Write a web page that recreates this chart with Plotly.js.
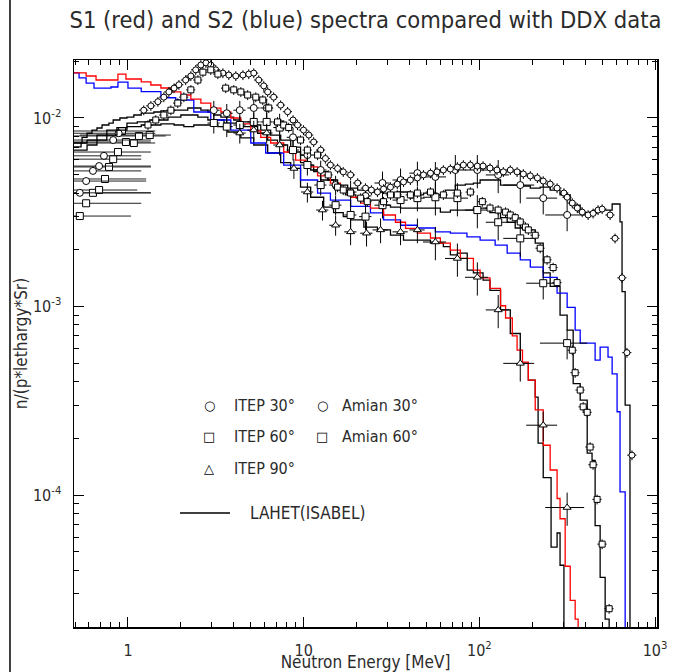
<!DOCTYPE html>
<html><head><meta charset="utf-8">
<script src="https://cdn.plot.ly/plotly-3.0.1.min.js"></script>
<style>body{margin:0;background:#fff}#chart{width:681px;height:672px}</style>
</head><body><div id="chart"></div>
<script>
// ---- S1 (red) histogram: bin start energies [MeV] and values (last value ~0 closes the histogram)
const s1E = [0.493,0.578,0.658,0.800,0.877,0.974,1.19,1.35,1.54,1.755,2.0,2.28,2.6,2.96,3.38,3.85,4.39,5.0,5.7,6.49,7.7,9.0,10.25,12.0,14.2,16.2,18.5,21.1,24.0,28.5,33.3,38.0,44.4,52.7,60,68.4,78,92.5,101,115,132,141,154,164,176,190,208,231,253,277,288,308,329,351,365];
const s1V = [0.01733,0.0167,0.0159,0.0159,0.0171,0.0161,0.01554,0.01496,0.01442,0.01375,0.01324,0.0126,0.0120,0.01128,0.01076,0.0100,0.0093,0.00853,0.0079,0.00737,0.0066,0.00598,0.0055,0.00493,0.00452,0.00415,0.0038,0.00354,0.00333,0.00306,0.0028,0.0026,0.00245,0.00231,0.00217,0.00199,0.0018,0.00156,0.00142,0.00125,0.00101,0.00087,0.0007,0.000587,0.000508,0.000407,0.000283,0.000184,0.000136,9.6e-5,7.5e-5,4.2e-5,2.77e-5,2.2e-5,1e-7];
// ---- S2 (blue) histogram
const s2E = [0.493,0.527,0.578,0.641,0.80,0.877,1.0,1.19,1.54,1.87,2.37,2.96,3.85,5.0,6.08,7.7,9.6,12.0,14.2,18.5,24.0,28.5,35.6,44.4,56.2,68.4,85,101,123,144,171,195,231,277,316,351,375,456,487,540,570,608,632,676];
const s2V = [0.01733,0.0163,0.0153,0.0144,0.0146,0.0155,0.0144,0.0138,0.0128,0.01246,0.01076,0.00976,0.00863,0.00737,0.00652,0.00563,0.00469,0.0040,0.00367,0.0034,0.00314,0.00288,0.0027,0.00261,0.00249,0.00245,0.00234,0.00225,0.00212,0.00192,0.00177,0.00162,0.00143,0.00118,0.00099,0.00075,0.00064,0.00052,0.00061,0.00054,0.00044,0.000277,0.000104,1e-7];
// ---- LAHET(ISABEL) histograms (black) at 30, 60, 90 degrees
const l30E = [0.493,0.548,0.585,0.624,0.666,0.712,0.779,0.824,0.90,0.987,1.08,1.19,1.405,1.54,1.83,2.19,2.6,2.85,3.08,3.38,4.0,4.39,5.0,5.7,6.49,7.4,8.44,9.6,10.5,11.4,13.7,15.6,17.8,20.3,24.0,28.5,34.1,40.5,48.1,57.4,64.0,73,83.3,92.5,101,115,132,144,171,195,222,253,288,329,375,427,487,570,632,649,676,720];
const l30V = [0.00737,0.0079,0.0083,0.00863,0.00885,0.00918,0.0094,0.00976,0.0100,0.0101,0.01037,0.0106,0.01076,0.0109,0.0110,0.0113,0.0110,0.01076,0.01037,0.0101,0.00976,0.00953,0.00918,0.00863,0.00812,0.00764,0.0070,0.00636,0.00563,0.0052,0.00469,0.00441,0.00425,0.00415,0.00405,0.0040,0.00405,0.00391,0.0040,0.00391,0.00415,0.00441,0.00446,0.00452,0.00469,0.00469,0.00441,0.00441,0.00436,0.00425,0.0043,0.00415,0.00391,0.00345,0.00315,0.00318,0.00325,0.0035,0.00281,0.0012,0.0003,1e-7];
const l60E = [0.493,0.541,0.585,0.666,0.758,0.865,0.987,1.13,1.33,1.48,1.69,2.0,2.5,2.85,3.52,4.39,5.47,6.24,7.1,8.1,9.6,10.96,12.5,14.8,17.3,19.8,22.5,27.4,31.2,35.6,46.2,60,68.4,78,92.5,115,132,144,160,178,208,231,253,288,316,342,375,411,438,456,487,520,548];
const l60V = [0.00702,0.00737,0.00764,0.00812,0.00863,0.0089,0.0094,0.00953,0.00976,0.00976,0.0101,0.01037,0.0101,0.00976,0.0094,0.0090,0.0083,0.00764,0.00719,0.0066,0.0058,0.0053,0.00469,0.00425,0.00391,0.00378,0.00367,0.00345,0.00337,0.00333,0.00333,0.00317,0.00325,0.00325,0.00333,0.00315,0.00296,0.0028,0.00261,0.00255,0.00217,0.00151,0.00128,0.0009,0.00075,0.00039,0.000319,0.000167,0.000153,6.9e-5,3.67e-5,2.2e-5,1e-7];
const l90E = [0.493,0.585,0.666,0.758,0.865,0.987,1.19,1.54,1.83,2.08,2.37,2.85,3.25,3.70,4.39,5.2,6.24,7.4,8.44,9.6,10.96,13.0,14.8,16.8,18.5,22.0,26.3,31.2,37.0,44.4,52.7,62.4,68.4,75,85.3,92.5,105,115,132,150,171,190,208,216,231,256,277,288,303];
const l90V = [0.00676,0.00719,0.00764,0.00812,0.00863,0.0090,0.00918,0.0093,0.00918,0.0090,0.00918,0.00918,0.0090,0.00843,0.00784,0.00719,0.00652,0.0058,0.0054,0.0043,0.0038,0.00337,0.00315,0.0030,0.00288,0.00264,0.00255,0.00239,0.00225,0.00225,0.00217,0.00208,0.00188,0.00192,0.00156,0.00151,0.00138,0.00122,0.00096,0.00072,0.0005,0.000407,0.000331,0.000189,0.000124,5.3e-5,6.3e-5,4.25e-5,1e-7];
// ---- Amian data (dense series)
const a30E = [1.23,1.35,1.48,1.60,1.71,1.83,1.95,2.13,2.28,2.43,2.6,2.78,2.96,3.16,3.47,3.75,4.11,4.51,4.87,5.2,5.55,5.93,6.24,6.75,7.4,8.1,8.7,9.23,9.98,10.7,11.4,12.5,13.3,14.2,15.6,16.8,18.5,20.3,22.5,24.3,26.3,28.5,31.2,34.1,37.0,40.5,44.4,48.1,52.7,57.4,62.4,68.4,75,81.1,88.9,97.4,105,115,126,137,150,164,178,195,214,231,253,277,303,316,338,361,385,416,444,474,500,555,592,649,692,739];
const a30V = [0.011,0.0116,0.0122,0.0129,0.01375,0.0144,0.015,0.0159,0.0167,0.018,0.0191,0.0196,0.0191,0.018,0.0173,0.0169,0.0167,0.0169,0.0171,0.0173,0.0159,0.0148,0.01375,0.0129,0.0117,0.0108,0.00976,0.00918,0.00863,0.00812,0.00746,0.00676,0.0061,0.00563,0.0054,0.00518,0.00499,0.00452,0.00425,0.00415,0.00405,0.0042,0.0043,0.00446,0.00458,0.00469,0.00481,0.00499,0.0051,0.00518,0.0053,0.00536,0.0055,0.00563,0.00563,0.00556,0.00556,0.00543,0.0053,0.00518,0.0053,0.00518,0.00505,0.00493,0.00481,0.00463,0.00446,0.00425,0.004,0.0038,0.00354,0.00333,0.00317,0.00306,0.00312,0.00325,0.00329,0.00306,0.0023,0.00142,0.00057,0.000163];
const a60E = [1.30,1.44,1.60,1.755,1.92,2.08,2.28,2.5,2.67,2.96,3.25,3.6,4.0,4.39,4.8,5.34,5.85,6.33,7.1,7.7,8.22,9.6,10.5,12.0,13.8,15.6,16.8,18.5,21.1,23.0,28.5,31.2,34.1,40.5,44.4,52.7,62.4,75,88.9,104,115,128,141,150,160,171,183,190,208,222,243,263,277,338,351,375,390,411,427,444,468,500,548];
const a60V = [0.00918,0.00976,0.01037,0.011,0.012,0.0129,0.0141,0.0159,0.0175,0.018,0.0171,0.0144,0.0141,0.01375,0.01324,0.0129,0.01246,0.0113,0.00953,0.00918,0.0089,0.00764,0.00676,0.00636,0.00499,0.0043,0.00415,0.004,0.00376,0.0036,0.0036,0.00391,0.00391,0.00391,0.004,0.00405,0.00391,0.004,0.00405,0.0036,0.00333,0.00325,0.00317,0.00306,0.00296,0.00281,0.00264,0.00255,0.00239,0.00204,0.00177,0.00161,0.00134,0.000587,0.000446,0.000361,0.000294,0.000275,0.00018,0.000145,9.5e-5,5.5e-5,2.5e-5];
// ---- ITEP data, low-energy points (wide energy bins: value, upper bin edge)
const itep30LowE = [0.532,0.578,0.632,0.685,0.73,0.824,0.885];
const itep30LowV = [0.00401,0.00463,0.00524,0.00556,0.0063,0.00764,0.0083];
const itep30LowEmax = [1.35,1.27,1.19,1.35,1.19,1.35,1.43];
const itep60LowE = [0.532,0.578,0.632,0.685,0.74,0.78,0.824,0.877,0.925,0.974,1.08,1.155,1.33];
const itep60LowV = [0.00302,0.00353,0.00401,0.00415,0.00475,0.0055,0.00605,0.0066,0.00853,0.00746,0.00737,0.00803,0.00812];
const itep60LowEmax = [1.04,1.19,1.35,1.13,1.27,1.35,1.19,1.35,1.43,1.35,1.43,1.64,1.755];
// ---- ITEP data with relative errors (x: energy, y: value)
const itep30E = [3.08,3.65,4.33,5.2,6.16,7.3,8.7,10.5,12.5,15.2,18.5,22.5,28.1,35.6,44.4,56.2,73,97.4,128,171,231,316];
const itep30V = [0.011,0.0106,0.011,0.0113,0.0113,0.0094,0.0079,0.00636,0.0053,0.00441,0.00405,0.00386,0.00452,0.00469,0.0051,0.00487,0.0053,0.0053,0.00499,0.00441,0.00376,0.00306];
const itep30Ex = [0.08,0.08,0.08,0.08,0.08,0.08,0.08,0.08,0.08,0.08,0.08,0.08,0.1,0.1,0.1,0.15,0.15,0.15,0.15,0.2,0.2,0.25];
const itep30Ey = [0.12,0.12,0.12,0.12,0.12,0.12,0.12,0.12,0.12,0.12,0.15,0.15,0.15,0.15,0.15,0.2,0.2,0.2,0.2,0.2,0.18,0.18];
const itep60E = [3.08,3.65,4.33,5.2,6.16,7.3,8.7,10.5,12.5,15.2,18.5,22.5,28.1,35.6,44.4,56.2,75,97.4,128,171,231,316];
const itep60V = [0.0094,0.009,0.00918,0.00953,0.00953,0.0089,0.00676,0.00563,0.00441,0.00345,0.00306,0.003,0.00345,0.00367,0.00376,0.0038,0.00376,0.00325,0.0028,0.0023,0.00133,0.00064];
const itep60Ex = [0.08,0.08,0.08,0.08,0.08,0.08,0.08,0.08,0.08,0.08,0.08,0.08,0.1,0.1,0.1,0.15,0.15,0.15,0.15,0.2,0.2,0.3];
const itep60Ey = [0.12,0.12,0.12,0.12,0.12,0.12,0.12,0.12,0.12,0.12,0.15,0.15,0.15,0.15,0.15,0.2,0.2,0.2,0.2,0.2,0.18,0.18];
const itep90E = [4.33,5.2,6.16,7.3,8.8,10.5,12.8,15.2,18.5,22.8,27.4,35.6,44.4,56.2,75,97.4,128,171,231,316];
const itep90V = [0.00832,0.00863,0.00832,0.00719,0.0054,0.00405,0.00325,0.0027,0.00249,0.00245,0.00255,0.00249,0.00255,0.0022,0.0018,0.00143,0.00096,0.0005,0.000235,8.6e-5];
const itep90Ex = [0.08,0.08,0.08,0.08,0.08,0.08,0.08,0.08,0.08,0.08,0.1,0.1,0.1,0.15,0.15,0.15,0.15,0.2,0.2,0.25];
const itep90Ey = [0.12,0.12,0.12,0.12,0.12,0.12,0.12,0.12,0.15,0.15,0.15,0.15,0.15,0.2,0.2,0.2,0.2,0.2,0.18,0.2];
// ---- axis ticks and texts
const xTickVals = [1,10,100,1000];
const xTickText = ['1','10','10<sup>2</sup>','10<sup>3</sup>'];
const yTickVals = [1e-4,1e-3,1e-2];
const yTickText = ['10<sup>-4</sup>','10<sup>-3</sup>','10<sup>-2</sup>'];
const legendRows = [['○','ITEP 30°','○','Amian 30°'],['□','ITEP 60°','□','Amian 60°'],['△','ITEP 90°','','']];

const FONT = 'DejaVu Sans Condensed, Liberation Sans Narrow, DejaVu Sans, sans-serif';
const SYMFONT = 'DejaVu Sans, sans-serif';
const INK = '#2b2b2b';

function hist(E, V, color){
  return {type:'scatter', mode:'lines', x:E, y:V, line:{shape:'hv', color:color, width:1.3}, hoverinfo:'skip', showlegend:false};
}
function pts(E, V, symbol, ex, ey){
  const t = {type:'scatter', mode:'markers', x:E, y:V, showlegend:false, hoverinfo:'skip',
    marker:{symbol:symbol, size:7, color:'white', line:{color:'black', width:1}}};
  if (ex) t.error_x = {type:'data', array:E.map((e,i)=>e*ex[i]), thickness:1, width:0, color:'black'};
  if (ey) t.error_y = {type:'data', array:V.map((v,i)=>v*ey[i]), thickness:1, width:0, color:'black'};
  return t;
}
function lowPts(E, V, Emax, symbol){
  return {type:'scatter', mode:'markers', x:E, y:V, showlegend:false, hoverinfo:'skip',
    marker:{symbol:symbol, size:7, color:'white', line:{color:'black', width:1}},
    error_x:{type:'data', symmetric:false, array:E.map((e,i)=>Emax[i]-e), arrayminus:E.map(e=>e*0.6), thickness:1, width:0, color:'#222'}};
}
function amian(E, V, symbol){
  return {type:'scatter', mode:'markers', x:E, y:V, showlegend:false, hoverinfo:'skip',
    marker:{symbol:symbol, size:6, color:'white', line:{color:'black', width:1}},
    error_x:{type:'percent', value:6, thickness:1, width:0, color:'black'},
    error_y:{type:'percent', value:6, thickness:1, width:0, color:'black'}};
}

const traces = [
  lowPts(itep60LowE, itep60LowV, itep60LowEmax, 'square'),
  lowPts(itep30LowE, itep30LowV, itep30LowEmax, 'circle'),
  hist(l30E, l30V, 'black'),
  hist(l60E, l60V, 'black'),
  hist(l90E, l90V, 'black'),
  hist(s2E, s2V, '#0000ff'),
  hist(s1E, s1V, '#ff0000'),
  pts(itep30E, itep30V, 'circle', itep30Ex, itep30Ey),
  pts(itep60E, itep60V, 'square', itep60Ex, itep60Ey),
  pts(itep90E, itep90V, 'triangle-up', itep90Ex, itep90Ey),
  amian(a30E, a30V, 'circle'),
  amian(a60E, a60V, 'square')
];

function minorVals(decades){ const v=[]; decades.forEach(d=>{for(let k=2;k<=9;k++) v.push(k*d);}); return v; }

const axisCommon = {
  type:'log', showgrid:false, zeroline:false, showline:true, linecolor:'black', linewidth:1.5,
  mirror:'allticks', ticks:'inside', ticklen:10, tickwidth:1, tickcolor:'black',
  tickmode:'array', tickfont:{family:FONT, size:16, color:INK}
};

// legend annotations
const annotations = [];
const rowY = [0.3915, 0.3351, 0.2787];
legendRows.forEach((r,i)=>{
  const cols = [0.2316, 0.271, 0.4254, 0.4563];
  r.forEach((txt,j)=>{
    if (!txt) return;
    const isSym = j%2===0;
    annotations.push({text:txt, xref:'paper', yref:'paper', x:cols[j], y:rowY[i],
      xanchor: isSym ? 'center' : 'left', yanchor:'middle', showarrow:false,
      font:{family: isSym ? SYMFONT : FONT, size: isSym ? 13 : 16, color: isSym ? 'black' : INK}});
  });
});
annotations.push({text:'LAHET(ISABEL)', xref:'paper', yref:'paper', x:0.2985, y:0.2011,
  xanchor:'left', yanchor:'middle', showarrow:false, font:{family:FONT, size:17, color:INK}});

const layout = {
  width:681, height:672,
  margin:{l:74, r:24, t:60, b:45},
  paper_bgcolor:'white', plot_bgcolor:'white',
  showlegend:false,
  title:{text:'S1 (red) and S2 (blue) spectra compared with DDX data', x:0.5, xref:'paper', xanchor:'center',
         y:0.970, yref:'container', yanchor:'middle', font:{family:FONT, size:23.5, color:INK}},
  xaxis:Object.assign({}, axisCommon, {
    range:[Math.log10(0.493), Math.log10(1026)],
    tickvals:xTickVals, ticktext:xTickText, ticklabelstandoff:8,
    minor:{tickmode:'array', tickvals:minorVals([0.1,1,10,100]), ticks:'inside', ticklen:5, tickcolor:'black', showgrid:false},
    title:{text:'Neutron Energy [MeV]', standoff:0, font:{family:FONT, size:17, color:INK}}
  }),
  yaxis:Object.assign({}, axisCommon, {
    range:[Math.log10(2.0e-5), Math.log10(0.0203)],
    tickvals:yTickVals, ticktext:yTickText, ticklabelstandoff:8,
    minor:{tickmode:'array', tickvals:minorVals([1e-5,1e-4,1e-3,1e-2]), ticks:'inside', ticklen:5, tickcolor:'black', showgrid:false},
    title:{text:'n/(p*lethargy*Sr)', standoff:1, font:{family:FONT, size:17, color:INK}}
  }),
  shapes:[
    {type:'line', xref:'paper', yref:'paper', x0:0.1818, x1:0.2676, y0:0.2011, y1:0.2011, line:{color:'black', width:1.3}},
    {type:'line', xref:'paper', yref:'paper', x0:-0.1098, x1:-0.1098, y0:-0.09, y1:1.12, line:{color:'black', width:1.5}}
  ],
  annotations:annotations
};

Plotly.newPlot('chart', traces, layout, {staticPlot:true, displayModeBar:false});
</script></body></html>
